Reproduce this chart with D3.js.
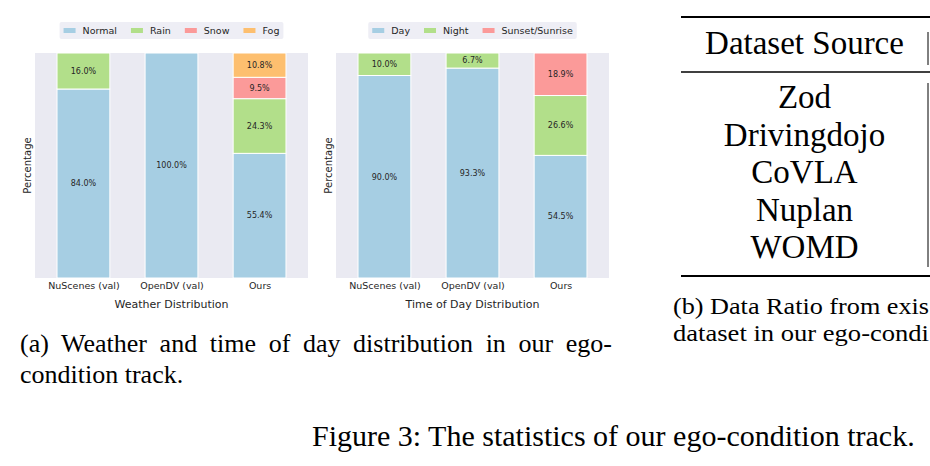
<!DOCTYPE html>
<html>
<head>
<meta charset="utf-8">
<script src="https://cdn.jsdelivr.net/npm/d3@7"></script>
<style>
  body { margin: 0; background: #fff; }
  text.chart { font-family: "DejaVu Sans", sans-serif; fill: #262626; }
  text.serif { font-family: "Liberation Serif", "Times New Roman", serif; fill: #000; }
</style>
</head>
<body>
<script>
// categories on the x axis (same for both panels)
var categories = ["NuScenes (val)", "OpenDV (val)", "Ours"];

// weather distribution (%)
var weatherKeys = ["Normal", "Rain", "Snow", "Fog"];
var weatherNormal = [84.0, 100.0, 55.4];
var weatherRain   = [16.0, 0, 24.3];
var weatherSnow   = [0, 0, 9.5];
var weatherFog    = [0, 0, 10.8];

// time of day distribution (%)
var timeKeys = ["Day", "Night", "Sunset/Sunrise"];
var timeDay    = [90.0, 93.3, 54.5];
var timeNight  = [10.0, 6.7, 26.6];
var timeSunset = [0, 0, 18.9];

// table rows (right panel, cut off)
var tableHeader = "Dataset Source";
var tableRows = ["Zod", "Drivingdojo", "CoVLA", "Nuplan", "WOMD"];

var colors = ["#a6cee3", "#b2df8a", "#fb9a99", "#fdbf6f"];

var W = 930, H = 466;
var svg = d3.select("body").append("svg")
    .attr("width", W)
    .attr("height", H);

var top_ = 53, bottom = 278;

function drawPanel(x0, x1, keys, series, xlabel) {
  var rows = categories.map(function(c, i) {
    var r = {i: i};
    keys.forEach(function(k, j) { r[k] = series[j][i]; });
    return r;
  });
  var stacked = d3.stack().keys(keys)(rows);

  var x = d3.scaleLinear().domain([-0.55, 2.55]).range([x0, x1]);
  var y = d3.scaleLinear().domain([0, 100]).range([bottom, top_]);
  var g = svg.append("g");

  g.append("rect")
    .attr("x", x0).attr("y", top_)
    .attr("width", x1 - x0).attr("height", bottom - top_)
    .attr("fill", "#eaeaf2");

  stacked.forEach(function(layer, li) {
    g.selectAll(null)
      .data(layer.filter(function(d) { return d[1] - d[0] > 0; }))
      .enter()
      .append("rect")
        .attr("x", function(d) { return x(d.data.i - 0.3); })
        .attr("y", function(d) { return y(d[1]); })
        .attr("width", x(0.3) - x(-0.3))
        .attr("height", function(d) { return y(d[0]) - y(d[1]); })
        .attr("fill", colors[li])
        .attr("stroke", "#fff")
        .attr("stroke-width", 1);

    g.selectAll(null)
      .data(layer.filter(function(d) { return d[1] - d[0] > 0; }))
      .enter()
      .append("text")
        .attr("class", "chart")
        .attr("x", function(d) { return x(d.data.i); })
        .attr("y", function(d) { return y((d[0] + d[1]) / 2); })
        .attr("dy", "0.35em")
        .attr("text-anchor", "middle")
        .style("font-size", "8px")
        .text(function(d) { return d3.format(".1f")(d[1] - d[0]) + "%"; });
  });

  // x axis: tick labels only
  var ax = g.append("g")
    .attr("transform", "translate(0," + bottom + ")")
    .call(d3.axisBottom(x).tickValues([0, 1, 2]).tickSize(0).tickPadding(4.5)
      .tickFormat(function(d) { return categories[d]; }));
  ax.select(".domain").remove();
  ax.selectAll("text")
    .attr("class", "chart")
    .style("font-size", "9.5px")
    .attr("fill", null);

  g.append("text")
    .attr("class", "chart")
    .attr("x", (x0 + x1) / 2).attr("y", 308)
    .attr("text-anchor", "middle")
    .style("font-size", "11px")
    .text(xlabel);

  g.append("text")
    .attr("class", "chart")
    .attr("transform", "translate(" + (x0 - 4) + "," + ((top_ + bottom) / 2) + ") rotate(-90)")
    .attr("text-anchor", "middle")
    .style("font-size", "10px")
    .text("Percentage");

  // legend
  var lg = g.append("g");
  var box = lg.append("rect")
    .attr("y", 22).attr("height", 17).attr("rx", 2)
    .attr("fill", "#eeeef5");
  var cx = 0;
  keys.forEach(function(k, j) {
    lg.append("rect")
      .attr("x", cx).attr("y", 28)
      .attr("width", 12).attr("height", 5)
      .attr("fill", colors[j]);
    var t = lg.append("text")
      .attr("class", "chart")
      .attr("x", cx + 19).attr("y", 34)
      .style("font-size", "9.5px")
      .text(k);
    cx += 19 + t.node().getComputedTextLength() + 14;
  });
  cx -= 14;
  var lx = (x0 + x1) / 2 - cx / 2;
  lg.selectAll("rect,text").attr("transform", "translate(" + lx + ",0)");
  box.attr("x", -4).attr("width", cx + 8);
}

drawPanel(35, 308, weatherKeys,
  [weatherNormal, weatherRain, weatherSnow, weatherFog], "Weather Distribution");
drawPanel(336, 609, timeKeys,
  [timeDay, timeNight, timeSunset], "Time of Day Distribution");

// table (b)
var tb = svg.append("g");
tb.append("line").attr("x1", 681).attr("x2", 930).attr("y1", 17).attr("y2", 17)
  .attr("stroke", "#000").attr("stroke-width", 2);
tb.append("line").attr("x1", 681).attr("x2", 930).attr("y1", 72).attr("y2", 72)
  .attr("stroke", "#000").attr("stroke-width", 1.3);
tb.append("line").attr("x1", 681).attr("x2", 930).attr("y1", 276).attr("y2", 276)
  .attr("stroke", "#000").attr("stroke-width", 2);
tb.append("line").attr("x1", 928).attr("x2", 928).attr("y1", 32).attr("y2", 65)
  .attr("stroke", "#000").attr("stroke-width", 1);
tb.append("line").attr("x1", 928).attr("x2", 928).attr("y1", 83).attr("y2", 267)
  .attr("stroke", "#000").attr("stroke-width", 1);
tb.append("text").attr("class", "serif")
  .attr("x", 804.5).attr("y", 54).attr("text-anchor", "middle")
  .style("font-size", "33px").text(tableHeader);
tb.selectAll(null).data(tableRows).enter().append("text")
  .attr("class", "serif")
  .attr("x", 804.5)
  .attr("y", function(d, i) { return 108 + i * 37.5; })
  .attr("text-anchor", "middle")
  .style("font-size", "33px")
  .text(function(d) { return d; });

// captions
function justify(sel, width) {
  var n = sel.node();
  var nat = n.getComputedTextLength();
  var spaces = (n.textContent.match(/ /g) || []).length;
  sel.style("word-spacing", ((width - nat) / spaces) + "px");
}
var capA1 = svg.append("text").attr("class", "serif")
  .attr("x", 20).attr("y", 352).style("font-size", "26px")
  .text("(a) Weather and time of day distribution in our ego-");
justify(capA1, 592);
svg.append("text").attr("class", "serif")
  .attr("x", 20).attr("y", 383).style("font-size", "26px")
  .text("condition track.");

// caption (b) is cut by the right edge of the picture
svg.append("text").attr("class", "serif")
  .attr("x", 673).attr("y", 314).style("font-size", "23px")
  .attr("textLength", 256).attr("lengthAdjust", "spacingAndGlyphs")
  .text("(b) Data Ratio from exis");
svg.append("text").attr("class", "serif")
  .attr("x", 673).attr("y", 341).style("font-size", "23px")
  .attr("textLength", 256).attr("lengthAdjust", "spacingAndGlyphs")
  .text("dataset in our ego-condi");

svg.append("text").attr("class", "serif")
  .attr("x", 312).attr("y", 446).style("font-size", "30px")
  .text("Figure 3: The statistics of our ego-condition track.");
</script>
</body>
</html>
